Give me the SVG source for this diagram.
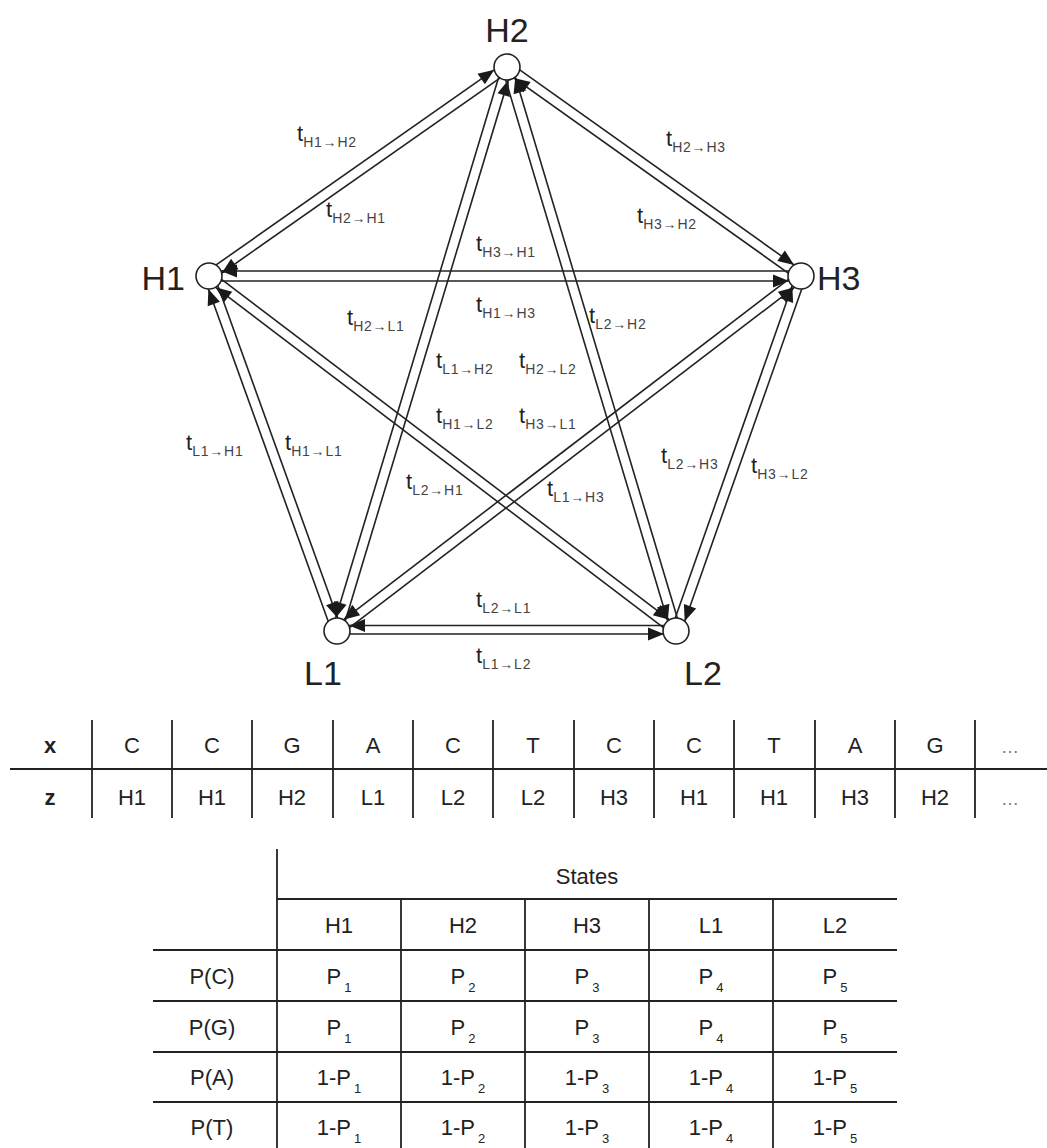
<svg xmlns="http://www.w3.org/2000/svg" width="1047" height="1148" viewBox="0 0 1047 1148">
  <style>
    .edge { stroke: #222; stroke-width: 1.6; fill: none; marker-end: url(#arrow); }
    .node { fill: #fff; stroke: #222; stroke-width: 1.6; }
    .big { font-family: "Liberation Sans", Arial, sans-serif; font-size: 34px; fill: #222; }
    .tl { font-family: "Liberation Sans", Arial, sans-serif; font-size: 22px; fill: #222; }
    .sub { font-size: 14px; fill: #444; letter-spacing: 0.8px; }
    .cell { font-family: "Liberation Sans", Arial, sans-serif; font-size: 22px; fill: #222; text-anchor: middle; }
    .bold { font-weight: bold; }
    .dots { fill: #777; font-size: 18px; }
    .psub { font-size: 13px; }
    .rule { stroke: #222; stroke-width: 1.8; }
    .rule2 { stroke: #222; stroke-width: 2.2; }
  </style>
  <defs>
    <marker id="arrow" markerUnits="userSpaceOnUse" markerWidth="30" markerHeight="13" refX="28" refY="6.5" orient="auto" overflow="visible">
      <path d="M0,0 L16,6.5 L0,13 z" fill="#1a1a1a"/>
    </marker>
  </defs>

  <!-- transitions: one line per direction, offset either side of the centre line -->
  <g id="connectors">
    <line class="edge" x1="206.13" y1="271.91" x2="504.13" y2="62.91"/>
    <line class="edge" x1="509.87" y1="71.09" x2="211.87" y2="280.09"/>
    <line class="edge" x1="509.90" y1="62.93" x2="803.90" y2="271.93"/>
    <line class="edge" x1="798.10" y1="280.08" x2="504.10" y2="71.08"/>
    <line class="edge" x1="801" y1="271" x2="209" y2="271"/>
    <line class="edge" x1="209" y1="281" x2="801" y2="281"/>
    <line class="edge" x1="676" y1="625.5" x2="337" y2="625.5"/>
    <line class="edge" x1="337" y1="634" x2="676" y2="634"/>
    <line class="edge" x1="332.30" y1="632.70" x2="204.30" y2="277.70"/>
    <line class="edge" x1="213.70" y1="274.30" x2="341.70" y2="629.30"/>
    <line class="edge" x1="671.28" y1="629.34" x2="796.28" y2="274.34"/>
    <line class="edge" x1="805.72" y1="277.66" x2="680.72" y2="632.66"/>
    <line class="edge" x1="502.21" y1="65.56" x2="332.21" y2="629.56"/>
    <line class="edge" x1="341.79" y1="632.44" x2="511.79" y2="68.44"/>
    <line class="edge" x1="502.21" y1="68.44" x2="671.21" y2="632.44"/>
    <line class="edge" x1="680.79" y1="629.57" x2="511.79" y2="65.57"/>
    <line class="edge" x1="212.03" y1="272.02" x2="679.03" y2="627.02"/>
    <line class="edge" x1="672.97" y1="634.98" x2="205.97" y2="279.98"/>
    <line class="edge" x1="797.96" y1="272.03" x2="333.96" y2="627.03"/>
    <line class="edge" x1="340.04" y1="634.97" x2="804.04" y2="279.97"/>
  </g>

  <!-- transition labels -->
  <g id="edge-labels" class="tl">
    <text x="297" y="141">t<tspan class="sub" dy="6">H1→H2</tspan></text>
    <text x="326" y="217">t<tspan class="sub" dy="6">H2→H1</tspan></text>
    <text x="666" y="146">t<tspan class="sub" dy="6">H2→H3</tspan></text>
    <text x="637" y="223">t<tspan class="sub" dy="6">H3→H2</tspan></text>
    <text x="476" y="251">t<tspan class="sub" dy="6">H3→H1</tspan></text>
    <text x="476" y="312">t<tspan class="sub" dy="6">H1→H3</tspan></text>
    <text x="347" y="325">t<tspan class="sub" dy="6">H2→L1</tspan></text>
    <text x="589" y="323">t<tspan class="sub" dy="6">L2→H2</tspan></text>
    <text x="436" y="368">t<tspan class="sub" dy="6">L1→H2</tspan></text>
    <text x="519" y="368">t<tspan class="sub" dy="6">H2→L2</tspan></text>
    <text x="436" y="423">t<tspan class="sub" dy="6">H1→L2</tspan></text>
    <text x="519" y="423">t<tspan class="sub" dy="6">H3→L1</tspan></text>
    <text x="186" y="450">t<tspan class="sub" dy="6">L1→H1</tspan></text>
    <text x="285" y="450">t<tspan class="sub" dy="6">H1→L1</tspan></text>
    <text x="406" y="489">t<tspan class="sub" dy="6">L2→H1</tspan></text>
    <text x="547" y="496">t<tspan class="sub" dy="6">L1→H3</tspan></text>
    <text x="661" y="463">t<tspan class="sub" dy="6">L2→H3</tspan></text>
    <text x="751" y="473">t<tspan class="sub" dy="6">H3→L2</tspan></text>
    <text x="476" y="607">t<tspan class="sub" dy="6">L2→L1</tspan></text>
    <text x="476" y="663">t<tspan class="sub" dy="6">L1→L2</tspan></text>
  </g>

  <!-- states -->
  <g id="H1">
    <circle class="node" cx="209" cy="276" r="13"/>
    <text class="big" x="185" y="290" text-anchor="end">H1</text>
  </g>
  <g id="H2">
    <circle class="node" cx="507" cy="67" r="13"/>
    <text class="big" x="507" y="42" text-anchor="middle">H2</text>
  </g>
  <g id="H3">
    <circle class="node" cx="801" cy="276" r="13"/>
    <text class="big" x="817" y="290">H3</text>
  </g>
  <g id="L1">
    <circle class="node" cx="337" cy="631" r="13"/>
    <text class="big" x="323" y="685" text-anchor="middle">L1</text>
  </g>
  <g id="L2">
    <circle class="node" cx="676" cy="631" r="13"/>
    <text class="big" x="703" y="685" text-anchor="middle">L2</text>
  </g>

  <!-- observed sequence x and hidden path z -->
  <g id="sequence-table">
    <line class="rule2" x1="10" y1="769" x2="1047" y2="769"/>
    <g class="rule">
      <line x1="92" y1="720" x2="92" y2="818"/>
      <line x1="172" y1="720" x2="172" y2="818"/>
      <line x1="252" y1="720" x2="252" y2="818"/>
      <line x1="333" y1="720" x2="333" y2="818"/>
      <line x1="413" y1="720" x2="413" y2="818"/>
      <line x1="493" y1="720" x2="493" y2="818"/>
      <line x1="574" y1="720" x2="574" y2="818"/>
      <line x1="654" y1="720" x2="654" y2="818"/>
      <line x1="734" y1="720" x2="734" y2="818"/>
      <line x1="815" y1="720" x2="815" y2="818"/>
      <line x1="895" y1="720" x2="895" y2="818"/>
      <line x1="975" y1="720" x2="975" y2="818"/>
    </g>
    <g class="cell">
      <text class="bold" x="50" y="753">x</text>
      <text x="132" y="753">C</text>
      <text x="212" y="753">C</text>
      <text x="292" y="753">G</text>
      <text x="373" y="753">A</text>
      <text x="453" y="753">C</text>
      <text x="533" y="753">T</text>
      <text x="614" y="753">C</text>
      <text x="694" y="753">C</text>
      <text x="774" y="753">T</text>
      <text x="855" y="753">A</text>
      <text x="935" y="753">G</text>
      <text class="dots" x="1010" y="753">…</text>
      <text class="bold" x="50" y="805">z</text>
      <text x="132" y="805">H1</text>
      <text x="212" y="805">H1</text>
      <text x="292" y="805">H2</text>
      <text x="373" y="805">L1</text>
      <text x="453" y="805">L2</text>
      <text x="533" y="805">L2</text>
      <text x="614" y="805">H3</text>
      <text x="694" y="805">H1</text>
      <text x="774" y="805">H1</text>
      <text x="855" y="805">H3</text>
      <text x="935" y="805">H2</text>
      <text class="dots" x="1010" y="805">…</text>
    </g>
  </g>

  <!-- emission probabilities per state -->
  <g id="emission-table">
    <g class="rule">
      <line x1="277" y1="849" x2="277" y2="1148"/>
      <line x1="277" y1="899" x2="897" y2="899"/>
      <line x1="153" y1="950" x2="897" y2="950"/>
      <line x1="153" y1="1001" x2="897" y2="1001"/>
      <line x1="153" y1="1052" x2="897" y2="1052"/>
      <line x1="153" y1="1102" x2="897" y2="1102"/>
      <line x1="401" y1="899" x2="401" y2="1148"/>
      <line x1="525" y1="899" x2="525" y2="1148"/>
      <line x1="649" y1="899" x2="649" y2="1148"/>
      <line x1="773" y1="899" x2="773" y2="1148"/>
    </g>
    <g class="cell">
      <text x="587" y="884">States</text>
      <text x="339" y="933">H1</text>
      <text x="463" y="933">H2</text>
      <text x="587" y="933">H3</text>
      <text x="711" y="933">L1</text>
      <text x="835" y="933">L2</text>

      <text x="212" y="984">P(C)</text>
      <text x="212" y="1035">P(G)</text>
      <text x="212" y="1085">P(A)</text>
      <text x="212" y="1135">P(T)</text>

      <text x="339" y="984">P<tspan class="psub" dx="3" dy="8">1</tspan></text>
      <text x="463" y="984">P<tspan class="psub" dx="3" dy="8">2</tspan></text>
      <text x="587" y="984">P<tspan class="psub" dx="3" dy="8">3</tspan></text>
      <text x="711" y="984">P<tspan class="psub" dx="3" dy="8">4</tspan></text>
      <text x="835" y="984">P<tspan class="psub" dx="3" dy="8">5</tspan></text>

      <text x="339" y="1035">P<tspan class="psub" dx="3" dy="8">1</tspan></text>
      <text x="463" y="1035">P<tspan class="psub" dx="3" dy="8">2</tspan></text>
      <text x="587" y="1035">P<tspan class="psub" dx="3" dy="8">3</tspan></text>
      <text x="711" y="1035">P<tspan class="psub" dx="3" dy="8">4</tspan></text>
      <text x="835" y="1035">P<tspan class="psub" dx="3" dy="8">5</tspan></text>

      <text x="339" y="1085">1-P<tspan class="psub" dx="3" dy="8">1</tspan></text>
      <text x="463" y="1085">1-P<tspan class="psub" dx="3" dy="8">2</tspan></text>
      <text x="587" y="1085">1-P<tspan class="psub" dx="3" dy="8">3</tspan></text>
      <text x="711" y="1085">1-P<tspan class="psub" dx="3" dy="8">4</tspan></text>
      <text x="835" y="1085">1-P<tspan class="psub" dx="3" dy="8">5</tspan></text>

      <text x="339" y="1135">1-P<tspan class="psub" dx="3" dy="8">1</tspan></text>
      <text x="463" y="1135">1-P<tspan class="psub" dx="3" dy="8">2</tspan></text>
      <text x="587" y="1135">1-P<tspan class="psub" dx="3" dy="8">3</tspan></text>
      <text x="711" y="1135">1-P<tspan class="psub" dx="3" dy="8">4</tspan></text>
      <text x="835" y="1135">1-P<tspan class="psub" dx="3" dy="8">5</tspan></text>
    </g>
  </g>
</svg>
